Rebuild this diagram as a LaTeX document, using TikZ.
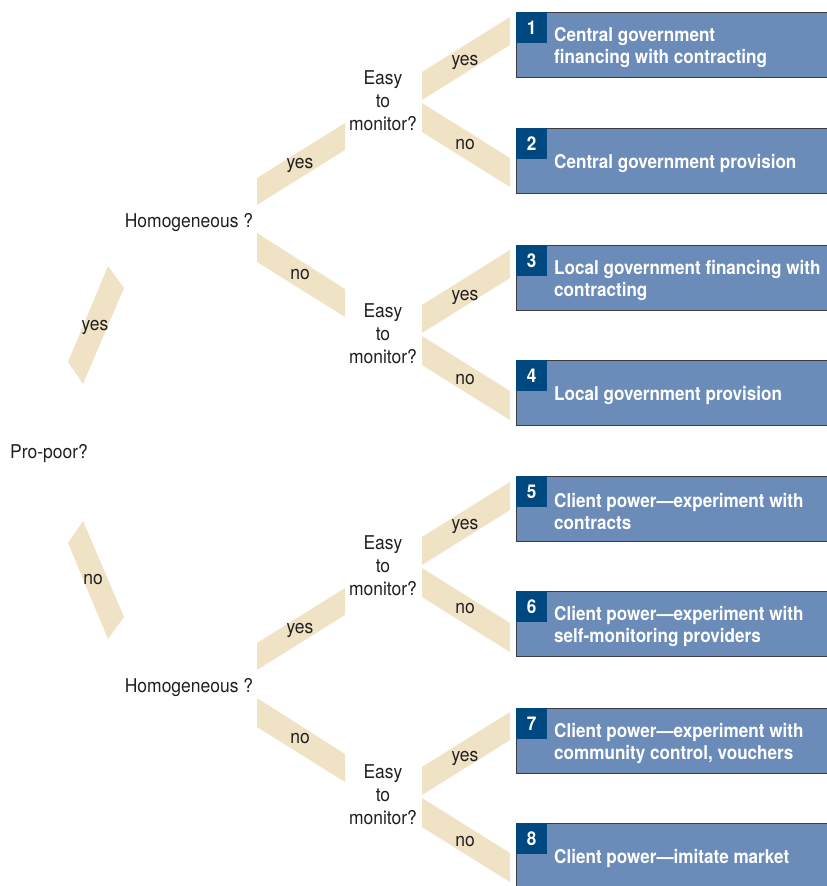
\documentclass[tikz,border=0pt]{standalone}
\usepackage{fontspec}
\setmainfont{TeX Gyre Heros}[FakeStretch=0.92]
\newfontfamily\boxfont{TeX Gyre Heros}[FakeStretch=0.9]
\definecolor{beige}{RGB}{240,226,196}
\definecolor{boxblue}{RGB}{107,139,185}
\definecolor{numblue}{RGB}{0,72,128}
\definecolor{boxline}{RGB}{60,60,60}
\definecolor{txt}{RGB}{35,31,32}
\begin{document}
\begin{tikzpicture}[x=1pt,y=-1pt,
  lbl/.style={text=txt,font=\fontsize{19}{23}\selectfont,inner sep=0pt,align=center,yshift=-2pt},
  multi/.style={yshift=2pt},
  bandfill/.style={fill=beige},
  boxfill/.style={fill=boxblue,anchor=north west,minimum width=311pt,minimum height=65pt,inner sep=0pt,outer sep=0pt},
  boxedge/.style={draw=boxline,line width=1pt},
  numbox/.style={fill=numblue,anchor=north west,minimum width=31pt,minimum height=31pt,inner sep=0pt,text=white,font=\boxfont\bfseries\fontsize{19}{22}\selectfont},
  boxtxt/.style={text=white,font=\boxfont\bfseries\fontsize{19}{22.5}\selectfont,align=left,anchor=west,inner sep=0pt,yshift=-2.5pt}
]
\useasboundingbox (0,0) rectangle (827,886);

% ---------- left bands ----------
\fill[bandfill] (108,266) -- (124,288) -- (83,384) -- (68,362) -- cycle;
\fill[bandfill] (83,521) -- (68,543) -- (108,639) -- (124,617) -- cycle;

% ---------- Homogeneous bands ----------
\foreach \o in {0,465}{
  \fill[bandfill] (257,178+\o) -- (345,123+\o) -- (345,150+\o) -- (257,205+\o) -- cycle;
  \fill[bandfill] (257,233+\o) -- (345,289+\o) -- (345,317+\o) -- (257,262+\o) -- cycle;
}

% ---------- Easy-to-monitor bands ----------
\foreach \o in {0,233,465,695}{
  \fill[bandfill] (422,72+\o) -- (510,17+\o) -- (510,45+\o) -- (422,100+\o) -- cycle;
  \fill[bandfill] (422,103+\o) -- (510,158+\o) -- (510,187+\o) -- (422,132+\o) -- cycle;
}

% ---------- question nodes ----------
\node[lbl] (pp) at (49,452) {Pro-poor?};
\node[lbl] (h1) at (189,221) {Homogeneous ?};
\node[lbl] (h2) at (189,686) {Homogeneous ?};
\node[lbl,multi] (e1) at (383,101) {Easy\\to\\monitor?};
\node[lbl,multi] (e2) at (383,334) {Easy\\to\\monitor?};
\node[lbl,multi] (e3) at (383,566) {Easy\\to\\monitor?};
\node[lbl,multi] (e4) at (383,795) {Easy\\to\\monitor?};

% ---------- yes / no labels ----------
\node[lbl] (ly0) at (95,325) {yes};
\node[lbl] (ln0) at (93,578) {no};
\node[lbl] (ly1) at (300,163) {yes};
\node[lbl] (ln1) at (300,273) {no};
\node[lbl] (ly2) at (300,628) {yes};
\node[lbl] (ln2) at (300,737) {no};
\node[lbl] (ly3) at (465,60) {yes};
\node[lbl] (ln3) at (465,143) {no};
\node[lbl] (ly4) at (465,295) {yes};
\node[lbl] (ln4) at (465,378) {no};
\node[lbl] (ly5) at (465,524) {yes};
\node[lbl] (ln5) at (465,607) {no};
\node[lbl] (ly6) at (465,756) {yes};
\node[lbl] (ln6) at (465,840) {no};

% ---------- outcome boxes ----------
\foreach \n/\y in {1/12,2/128,3/245,4/360,5/476,6/591,7/708,8/823}{
  \node[boxfill] (b\n) at (516,\y) {};
  \draw[boxedge] (b\n.north east) -- (b\n.north west) -- (b\n.south west) -- (b\n.south east);
  \node[numbox] (n\n) at (516,\y) {\n};
}
\node[boxtxt] (t1) at (554,45) {Central government\\financing with contracting};
\node[boxtxt] (t2) at (554,161) {Central government provision};
\node[boxtxt] (t3) at (554,278) {Local government financing with\\contracting};
\node[boxtxt] (t4) at (554,393) {Local government provision};
\node[boxtxt] (t5) at (554,509) {Client power—experiment with\\contracts};
\node[boxtxt] (t6) at (554,624) {Client power—experiment with\\self-monitoring providers};
\node[boxtxt] (t7) at (554,741) {Client power—experiment with\\community control, vouchers};
\node[boxtxt] (t8) at (554,856) {Client power—imitate market};
\end{tikzpicture}
\end{document}
